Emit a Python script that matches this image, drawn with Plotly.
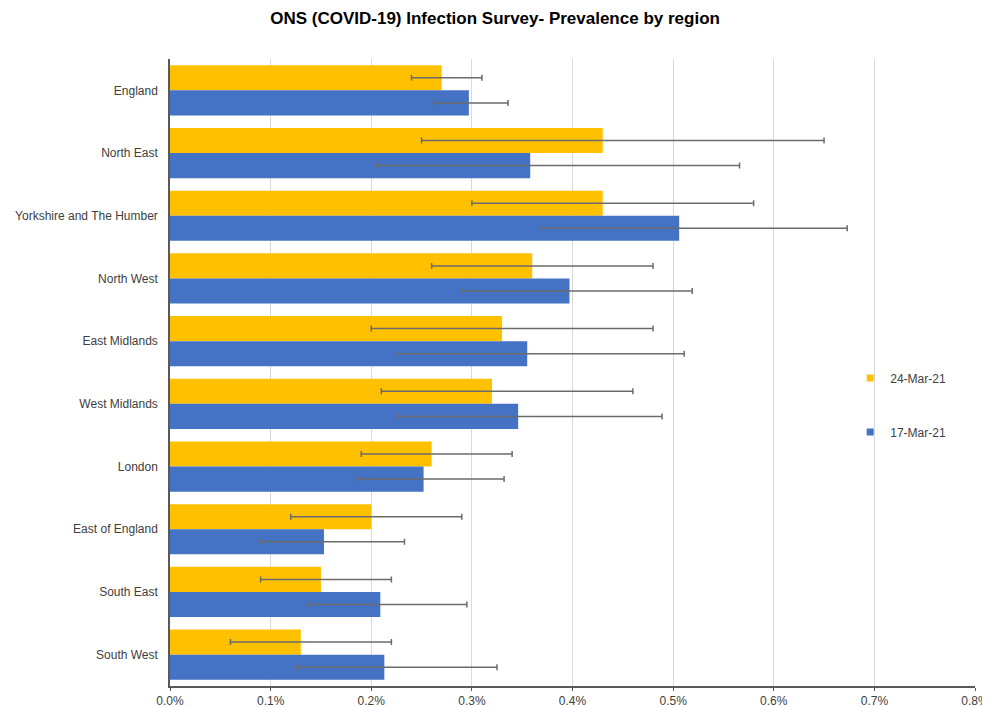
import plotly.graph_objects as go

regions = ["England", "North East", "Yorkshire and The Humber", "North West", "East Midlands",
           "West Midlands", "London", "East of England", "South East", "South West"]

# prevalence (%) and 95% interval bounds
mar24 = [0.270, 0.430, 0.430, 0.360, 0.330, 0.320, 0.260, 0.200, 0.150, 0.130]
mar24_low = [0.240, 0.250, 0.300, 0.260, 0.200, 0.210, 0.190, 0.120, 0.090, 0.060]
mar24_high = [0.310, 0.650, 0.580, 0.480, 0.480, 0.460, 0.340, 0.290, 0.220, 0.220]

mar17 = [0.297, 0.358, 0.506, 0.397, 0.355, 0.346, 0.252, 0.153, 0.209, 0.213]
mar17_low = [0.262, 0.205, 0.369, 0.290, 0.226, 0.227, 0.186, 0.090, 0.138, 0.126]
mar17_high = [0.336, 0.566, 0.673, 0.519, 0.511, 0.489, 0.332, 0.233, 0.295, 0.325]

tick_vals = [0, 0.1, 0.2, 0.3, 0.4, 0.5, 0.6, 0.7, 0.8]
tick_text = ["0.0%", "0.1%", "0.2%", "0.3%", "0.4%", "0.5%", "0.6%", "0.7%", "0.8%"]

series = [
    {"name": "24-Mar-21", "x": mar24, "low": mar24_low, "high": mar24_high, "color": "#FFC000"},
    {"name": "17-Mar-21", "x": mar17, "low": mar17_low, "high": mar17_high, "color": "#4472C4"},
]

fig = go.Figure()
for s in series:
    fig.add_trace(go.Bar(
        y=regions,
        x=s["x"],
        name=s["name"],
        legendgroup=s["name"],
        showlegend=False,
        orientation="h",
        marker=dict(color=s["color"], line=dict(width=0)),
        error_x=dict(
            type="data",
            symmetric=False,
            array=[h - v for h, v in zip(s["high"], s["x"])],
            arrayminus=[v - l for v, l in zip(s["x"], s["low"])],
            color="#6b6b6b",
            thickness=1.5,
            width=3,
        ),
    ))
    # small square legend key, like the original
    fig.add_trace(go.Scatter(
        x=[None], y=[None],
        mode="markers",
        name=s["name"],
        legendgroup=s["name"],
        marker=dict(symbol="square", size=7, color=s["color"]),
    ))

# the page body adds an 8px margin, so the figure is 8px smaller than the window
fig.update_layout(
    width=982,
    height=699,
    barmode="group",
    bargap=0.2,
    bargroupgap=0,
    plot_bgcolor="white",
    paper_bgcolor="white",
    font=dict(family="Liberation Sans, Arial", size=12, color="#404040"),
    title=dict(
        text="<b>ONS (COVID-19) Infection Survey- Prevalence by region</b>",
        x=0.496, xanchor="center", y=0.985, yanchor="middle",
        font=dict(size=17, color="#000000"),
    ),
    margin=dict(l=162, r=15, t=51, b=21),
    legend=dict(
        x=0.845, xanchor="left", y=0.448, yanchor="middle",
        bgcolor="rgba(0,0,0,0)",
        tracegroupgap=35,
        itemwidth=30,
        font=dict(size=12, color="#404040"),
    ),
)

fig.update_xaxes(
    range=[0, 0.8],
    tickvals=tick_vals,
    ticktext=tick_text,
    showgrid=True,
    gridcolor="#d9d9d9",
    gridwidth=1,
    showline=True,
    linecolor="#595959",
    linewidth=1.5,
    ticks="outside",
    ticklen=3,
    tickcolor="#595959",
    zeroline=False,
    automargin=False,
)
fig.update_yaxes(
    autorange="reversed",
    showline=True,
    linecolor="#595959",
    linewidth=1.5,
    ticks="",
    ticklabelstandoff=8,
    automargin=False,
)

fig.write_html("out.html")
